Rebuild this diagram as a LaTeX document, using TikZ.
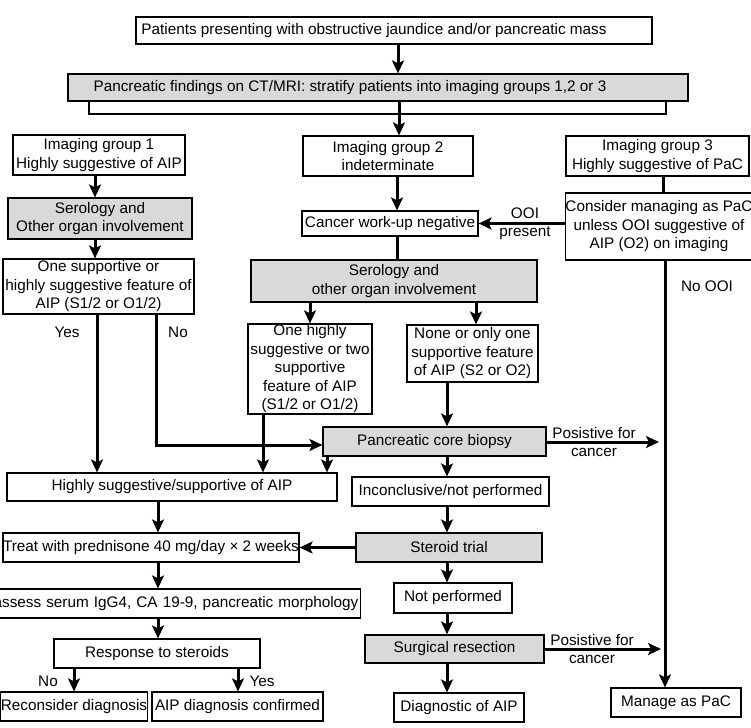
\documentclass[tikz,border=0pt]{standalone}
\usepackage{fontspec}
\setmainfont{Liberation Sans}
\usetikzlibrary{arrows.meta}
\newcommand{\fs}{\fontsize{15.3}{18.5}\selectfont}
\tikzset{
  bx/.style={draw, line width=1.2pt, inner sep=1pt, align=center, font=\fs, fill=white},
  gbx/.style={bx, fill=gray!30},
  arr/.style={line width=3pt, -{Stealth[length=13pt,width=12pt,inset=3pt]}},
  ln/.style={line width=3pt},
  brk/.style={line width=2.6pt},
  lbl/.style={font=\fs, inner sep=0pt}
}
\begin{document}
\begin{tikzpicture}[x=1pt, y=-1pt]
\useasboundingbox (0,0) rectangle (751,727);
\clip (0,0) rectangle (751,727);
% nodes
\node[bx, minimum width=516pt, minimum height=27pt] (A) at (394,30.5) {Patients presenting with obstructive jaundice and/or pancreatic mass\hspace*{40pt}};
\node[gbx, minimum width=620pt, minimum height=27pt] (B) at (378,87.5) {Pancreatic findings on CT/MRI: stratify patients into imaging groups 1,2 or 3\hspace*{56pt}};
\node[bx, minimum width=172pt, minimum height=40pt] (g1) at (99,155) {Imaging group 1\\Highly suggestive of AIP};
\node[bx, minimum width=170pt, minimum height=40pt] (g2) at (388,156) {Imaging group 2\\indeterminate};
\node[bx, minimum width=183pt, minimum height=40pt] (g3) at (657.5,156) {Imaging group 3\\Highly suggestive of PaC};
\node[gbx, minimum width=184pt, minimum height=41pt] (s1) at (100,218.5) {Serology and\\Other organ involvement};
\node[bx, minimum width=191pt, minimum height=55pt, inner sep=0pt] (os) at (98.5,286.5) {One supportive or\\highly suggestive feature of\\AIP (S1/2 or O1/2)};
\node[bx, minimum width=176pt, minimum height=25pt] (cw) at (390,223.5) {Cancer work-up negative};
\node[bx, minimum width=186pt, minimum height=67pt, inner sep=0pt] (cons) at (659,226.5) {Consider managing as PaC\\unless OOI suggestive of\\AIP (O2) on imaging};
\node[gbx, minimum width=286pt, minimum height=42pt] (s2) at (394,281) {Serology and\\other organ involvement};
\node[bx, minimum width=124pt, minimum height=90pt, inner sep=0pt] (oh) at (310,369) {One highly\\suggestive or two\\supportive\\feature of AIP\\(S1/2 or O1/2)};
\node[bx, minimum width=131pt, minimum height=57pt, inner sep=0pt] (none) at (472.5,353.5) {None or only one\\supportive feature\\of AIP (S2 or O2)};
\node[gbx, minimum width=223pt, minimum height=29pt] (bio) at (434.5,441.5) {Pancreatic core biopsy};
\node[bx, minimum width=330pt, minimum height=28pt] (hs) at (172,487) {Highly suggestive/supportive of AIP};
\node[bx, minimum width=197pt, minimum height=29pt] (inc) at (450.5,491.5) {Inconclusive/not performed};
\node[bx, minimum width=296pt, minimum height=29pt, inner sep=0pt] (tr) at (151,547.5) {Treat with prednisone 40 mg/day × 2 weeks};
\node[gbx, minimum width=186pt, minimum height=29pt] (st) at (449,547.5) {Steroid trial};
\node[bx, anchor=east, text width=375pt, align=right, inner xsep=2pt, minimum height=29pt] (rea) at (361,603.5) {assess serum IgG4, CA 19-9, pancreatic morphology};
\node[bx, minimum width=118pt, minimum height=30pt] (np) at (453,598) {Not performed};
\node[bx, minimum width=206pt, minimum height=29pt] (resp) at (157,653.5) {Response to steroids};
\node[gbx, minimum width=179pt, minimum height=28pt] (sr) at (454.5,649) {Surgical resection};
\node[bx, minimum width=146pt, minimum height=29pt, inner sep=0pt] (rec) at (74,706.5) {Reconsider diagnosis};
\node[bx, minimum width=171pt, minimum height=29pt] (aic) at (237.5,706.5) {AIP diagnosis confirmed};
\node[bx, minimum width=130pt, minimum height=29pt] (dg) at (459,707.5) {Diagnostic of AIP};
\node[bx, minimum width=130pt, minimum height=29pt] (man) at (676,702.5) {Manage as PaC};
% labels
\node[lbl] (lOOI) at (525,213) {OOI};
\node[lbl] (lpres) at (525,233) {present};
\node[lbl] (lnoo) at (707,286) {No OOI};
\node[lbl] (lyes1) at (67,332) {Yes};
\node[lbl] (lno1) at (178,332) {No};
\node[lbl] (lpf1) at (594,433) {Posistive for};
\node[lbl] (lc1) at (594,452) {cancer};
\node[lbl] (lpf2) at (592,640) {Posistive for};
\node[lbl] (lc2) at (592,659) {cancer};
\node[lbl] (lno2) at (48,681) {No};
\node[lbl] (lyes2) at (262,681) {Yes};
% coordinates
\coordinate (brL) at (89,114);
\coordinate (brR) at (666,114);
\coordinate (noBend) at (156,445);
\coordinate (hit1) at (659,442);
\coordinate (hit2) at (661,649);
% connectors
\draw[arr] (A.south -| 398,0) -- (B.north -| 398,0);
\draw[brk] (B.south -| brL) -- (brL) -- (brR) -- (B.south -| brR);
\draw[arr] (B.south -| 399,0) -- (g2.north -| 399,0);
\draw[arr] (g1.south -| 95,0) -- (s1.north -| 95,0);
\draw[arr] (s1.south -| 95,0) -- (os.north -| 95,0);
\draw[arr] (g2.south -| 397,0) -- (cw.north -| 397,0);
\draw[ln] (g3.south -| 663,0) -- (cons.north -| 663,0);
\draw[arr] (cons.west |- cw.east) -- (cw.east);
\draw[ln] (cw.south -| 397,0) -- (s2.north -| 397,0);
\draw[arr] (s2.south -| 310,0) -- (oh.north -| 310,0);
\draw[arr] (s2.south -| 476,0) -- (none.north -| 476,0);
\draw[arr] (none.south -| 447,0) -- (bio.north -| 447,0);
\draw[arr] (os.south -| 97,0) -- (hs.north -| 97,0);
\draw[arr] (os.south -| noBend) -- (noBend) -- (bio.west |- noBend);
\draw[arr] (oh.south -| 263,0) -- (hs.north -| 263,0);
\draw[arr] (bio.south -| 327,0) -- (hs.north -| 327,0);
\draw[arr] (bio.south -| 447,0) -- (inc.north -| 447,0);
\draw[arr] (bio.east |- hit1) -- (hit1);
\draw[arr] (cons.south -| 665,0) -- (man.north -| 665,0);
\draw[arr] (hs.south -| 158,0) -- (tr.north -| 158,0);
\draw[arr] (inc.south -| 447,0) -- (st.north -| 447,0);
\draw[arr] (st.west) -- (tr.east |- st.west);
\draw[arr] (st.south -| 447,0) -- (np.north -| 447,0);
\draw[arr] (np.south -| 447,0) -- (sr.north -| 447,0);
\draw[arr] (sr.east) -- (hit2);
\draw[arr] (sr.south -| 447,0) -- (dg.north -| 447,0);
\draw[arr] (tr.south -| 158,0) -- (rea.north -| 158,0);
\draw[arr] (rea.south -| 158,0) -- (resp.north -| 158,0);
\draw[arr] (resp.south -| 74,0) -- (rec.north -| 74,0);
\draw[arr] (resp.south -| 238,0) -- (aic.north -| 238,0);
\end{tikzpicture}
\end{document}
